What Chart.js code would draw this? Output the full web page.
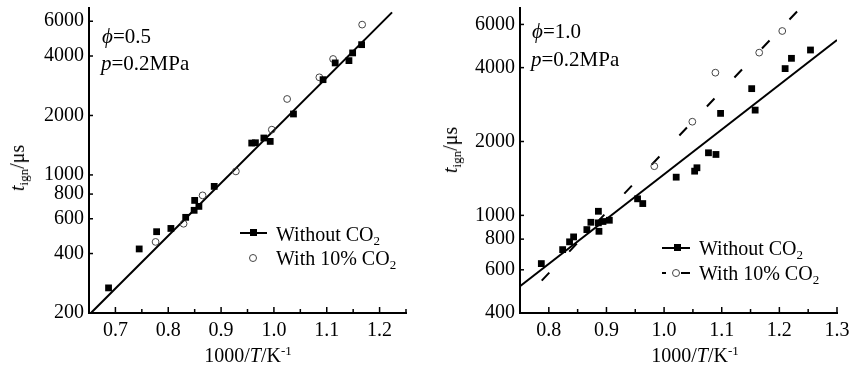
<!DOCTYPE html>
<html>
<head>
<meta charset="utf-8">
<script src="https://cdn.jsdelivr.net/npm/chart.js@4.4.1/dist/chart.umd.min.js"></script>
<style>
    body { margin: 0; background: #fff; }
    #wrap { position: relative; width: 850px; height: 370px; font-family: "Liberation Serif", "Times New Roman", serif; color: #000; }
    .panel { position: absolute; top: 0; width: 425px; height: 370px; }
    .txt { position: absolute; white-space: nowrap; line-height: 20px; font-size: 20px; }
    .note { font-size: 21px; line-height: 21px; }
    .ytitle { position: absolute; white-space: nowrap; font-size: 20px; line-height: 20px; transform: translate(-50%, -50%) rotate(-90deg); }
    .xtitle { position: absolute; white-space: nowrap; font-size: 20px; line-height: 20px; transform: translate(-50%, -50%); }
    sub { font-size: 13px; vertical-align: -4px; line-height: 0; }
    sup { font-size: 13px; vertical-align: 7px; line-height: 0; }
    .seg { position: absolute; height: 2px; background: #000; }
    .sq { position: absolute; width: 7px; height: 7px; background: #000; }
    .circ { position: absolute; width: 6px; height: 6px; border: 1px solid #444; border-radius: 50%; }
</style>
</head>
<body>
<div id="wrap">
    <div class="panel" style="left:0"><canvas id="leftChart" width="425" height="370"></canvas></div>
    <div class="panel" style="left:425px"><canvas id="rightChart" width="425" height="370"></canvas></div>

    <!-- left panel texts -->
    <div class="txt note" style="left:102px;top:26px"><i>ϕ</i>=0.5</div>
    <div class="txt note" style="left:101px;top:53px"><i>p</i>=0.2MPa</div>
    <div class="ytitle" style="left:17px;top:168px"><i>t</i><sub>ign</sub>/μs</div>
    <div class="xtitle" style="left:248px;top:355px">1000/<i>T</i>/K<sup>-1</sup></div>

    <div class="seg" style="left:240px;top:232px;width:27px"></div>
    <div class="sq" style="left:250px;top:229px"></div>
    <div class="txt" style="left:276px;top:224px">Without CO<sub>2</sub></div>
    <div class="circ" style="left:249px;top:254px"></div>
    <div class="txt" style="left:276px;top:248px">With 10% CO<sub>2</sub></div>

    <!-- right panel texts -->
    <div class="txt note" style="left:532px;top:21px"><i>ϕ</i>=1.0</div>
    <div class="txt note" style="left:531px;top:49px"><i>p</i>=0.2MPa</div>
    <div class="ytitle" style="left:450px;top:150px"><i>t</i><sub>ign</sub>/μs</div>
    <div class="xtitle" style="left:695px;top:355px">1000/<i>T</i>/K<sup>-1</sup></div>

    <div class="seg" style="left:662px;top:247px;width:28px"></div>
    <div class="sq" style="left:674px;top:244px"></div>
    <div class="txt" style="left:699px;top:238px">Without CO<sub>2</sub></div>
    <div class="seg" style="left:662px;top:272px;width:4px"></div>
    <div class="circ" style="left:672px;top:269px"></div>
    <div class="seg" style="left:681px;top:272px;width:9px"></div>
    <div class="txt" style="left:699px;top:263px">With 10% CO<sub>2</sub></div>
</div>

<script>
// Tick values
const leftYTicks = [200, 400, 600, 800, 1000, 2000, 4000, 6000];
const rightYTicks = [400, 600, 800, 1000, 2000, 4000, 6000];

// Left panel (phi = 0.5)
const leftNoCo2X = [0.687, 0.745, 0.778, 0.805, 0.833, 0.849, 0.850, 0.858, 0.887, 0.958, 0.965, 0.981, 0.993, 1.037, 1.093, 1.116, 1.142, 1.149, 1.166];
const leftNoCo2Y = [268, 422, 516, 536, 610, 662, 743, 693, 875, 1450, 1455, 1538, 1478, 2035, 3036, 3690, 3790, 4146, 4566];
const leftCo2X = [0.776, 0.829, 0.865, 0.928, 0.996, 1.025, 1.086, 1.112, 1.167];
const leftCo2Y = [458, 566, 788, 1042, 1695, 2424, 3120, 3864, 5767];
const leftFitX = [0.6545, 1.2236];
const leftFitY = [201, 6654];

// Right panel (phi = 1.0)
const rightNoCo2X = [0.787, 0.824, 0.836, 0.843, 0.866, 0.873, 0.886, 0.886, 0.887, 0.894, 0.905, 0.954, 0.963, 1.021, 1.053, 1.057, 1.077, 1.090, 1.098, 1.152, 1.158, 1.210, 1.221, 1.254];
const rightNoCo2Y = [636, 725, 780, 817, 875, 937, 1039, 932, 861, 944, 955, 1168, 1117, 1431, 1514, 1563, 1799, 1771, 2604, 3284, 2685, 3964, 4365, 4720];
const rightCo2X = [0.983, 1.049, 1.089, 1.165, 1.205];
const rightCo2Y = [1586, 2408, 3815, 4605, 5641];
const rightFitX = [0.75, 1.3];
const rightFitY = [514, 5185];
const rightCo2FitX = [0.7877, 1.2315];
const rightCo2FitY = [542, 6808];

const tickFont = { family: 'Liberation Serif', size: 20 };

function toPoints(xs, ys) {
    return xs.map((x, i) => ({ x: x, y: ys[i] }));
}

// Ticks drawn inside the plot area, short ones for the 0.05 steps
const inwardTicks = {
    id: 'inwardTicks',
    afterDraw(chart) {
        const { ctx, chartArea, scales } = chart;
        ctx.save();
        ctx.strokeStyle = '#000';
        ctx.lineWidth = 1.5;
        scales.x.ticks.forEach(t => {
            const px = scales.x.getPixelForValue(t.value);
            const len = t.label ? 6 : 4;
            ctx.beginPath();
            ctx.moveTo(px, chartArea.bottom);
            ctx.lineTo(px, chartArea.bottom - len);
            ctx.stroke();
        });
        scales.y.ticks.forEach(t => {
            const py = scales.y.getPixelForValue(t.value);
            ctx.beginPath();
            ctx.moveTo(chartArea.left, py);
            ctx.lineTo(chartArea.left + 4, py);
            ctx.stroke();
        });
        ctx.restore();
    }
};

function squares(xs, ys) {
    return { data: toPoints(xs, ys), pointStyle: 'rect', pointRadius: 4.8, backgroundColor: '#000', borderWidth: 0, showLine: false };
}

function circles(xs, ys) {
    return { data: toPoints(xs, ys), pointStyle: 'circle', pointRadius: 3.4, backgroundColor: 'rgba(0,0,0,0)', borderColor: '#444', borderWidth: 1, showLine: false };
}

function fitLine(xs, ys, dash) {
    return { data: toPoints(xs, ys), showLine: true, pointRadius: 0, borderColor: '#000', borderWidth: 2, borderDash: dash || [] };
}

function makePanel(canvasId, cfg) {
    return new Chart(document.getElementById(canvasId), {
        type: 'scatter',
        data: { datasets: cfg.datasets },
        options: {
            responsive: false,
            animation: false,
            layout: { padding: { top: 8, right: cfg.padRight, bottom: 0, left: 0 } },
            plugins: { legend: { display: false }, tooltip: { enabled: false } },
            scales: {
                x: {
                    type: 'linear',
                    min: cfg.xMin,
                    max: cfg.xMax,
                    grid: { display: false, drawTicks: false },
                    border: { display: true, color: '#000', width: 2 },
                    ticks: {
                        stepSize: 0.05,
                        autoSkip: false,
                        maxRotation: 0,
                        color: '#000',
                        font: tickFont,
                        padding: 6,
                        callback: v => (Math.round(v * 20) % 2 === 0 ? v.toFixed(1) : '')
                    },
                    afterFit: s => { s.height = 57; s.paddingLeft = 0; s.paddingRight = 0; }
                },
                y: {
                    type: 'logarithmic',
                    min: cfg.yMin,
                    max: cfg.yMax,
                    grid: { display: false, drawTicks: false },
                    border: { display: true, color: '#000', width: 2 },
                    ticks: { autoSkip: false, color: '#000', font: tickFont, padding: 5, callback: v => String(v) },
                    afterBuildTicks: s => { s.ticks = cfg.yTicks.map(v => ({ value: v })); },
                    afterFit: s => { s.width = cfg.yAxisWidth; s.paddingTop = 0; s.paddingBottom = 0; }
                }
            }
        },
        plugins: [inwardTicks]
    });
}

makePanel('leftChart', {
    xMin: 0.65, xMax: 1.25, yMin: 200, yMax: 7000,
    yTicks: leftYTicks, yAxisWidth: 89, padRight: 19,
    datasets: [
        squares(leftNoCo2X, leftNoCo2Y),
        circles(leftCo2X, leftCo2Y),
        fitLine(leftFitX, leftFitY)
    ]
});

makePanel('rightChart', {
    xMin: 0.75, xMax: 1.3, yMin: 400, yMax: 7000,
    yTicks: rightYTicks, yAxisWidth: 95, padRight: 13,
    datasets: [
        squares(rightNoCo2X, rightNoCo2Y),
        circles(rightCo2X, rightCo2Y),
        fitLine(rightFitX, rightFitY),
        fitLine(rightCo2FitX, rightCo2FitY, [11, 29])
    ]
});
</script>
</body>
</html>
